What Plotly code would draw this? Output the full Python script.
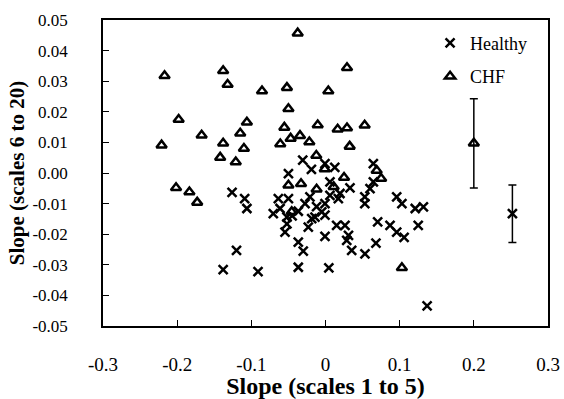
import plotly.graph_objects as go

# Healthy group (x = slope scales 1-5, y = slope scales 6-20)
healthy_x = [-0.126, -0.109, -0.106, -0.120, -0.138, -0.091,
             -0.0307, -0.019, -0.0007, 0.0125, -0.050,
             -0.0636, -0.050, -0.0613, -0.0704, -0.0367, -0.021, -0.0276, -0.012, -0.0007,
             0.006, 0.0173, -0.005, 0.006,
             -0.052, -0.0546, -0.0367, -0.030, -0.0232, -0.0007, 0.015, -0.0142, -0.0007,
             -0.0367, 0.0045,
             0.033, 0.0195, 0.0263, 0.031, 0.0286, 0.0353, 0.0532, 0.068, 0.0703, 0.087,
             0.096, 0.106,
             0.0645, 0.0645, 0.060, 0.053, 0.053, 0.096, 0.103, 0.121, 0.132, 0.125, 0.137,
             -0.0186, -0.045, -0.052]
healthy_y = [-0.0063, -0.0084, -0.0116, -0.0253, -0.0316, -0.0322,
             0.0042, 0.0012, 0.0031, 0.0018, -0.0002,
             -0.0084, -0.0084, -0.0116, -0.0133, -0.0125, -0.0078, -0.0100, -0.0110, -0.0100,
             -0.0073, -0.0084, -0.0127, -0.0029,
             -0.0166, -0.0193, -0.0226, -0.0255, -0.0177, -0.0207, -0.0171, -0.0144, -0.0138,
             -0.0308, -0.0310,
             -0.0049, -0.0067, -0.0171, -0.0204, -0.0220, -0.0253, -0.0264, -0.0229, -0.0160, -0.0171,
             -0.0193, -0.0210,
             0.0031, -0.0029, -0.0051, -0.0078, -0.0100, -0.0078, -0.0100, -0.0116, -0.0111, -0.0171, -0.0434,
             -0.0149, -0.0140, -0.0144]

# CHF group
chf_x = [-0.217, -0.138, -0.132, -0.198, -0.221, -0.167, -0.138, -0.115, -0.106, -0.110, -0.142, -0.121,
         -0.0375, 0.029, -0.0856, -0.052, 0.0038, -0.050, -0.0555, -0.0105, -0.0344, -0.047, -0.061,
         -0.0218, 0.0164, 0.029, 0.0528, 0.0326, -0.0124,
         -0.2015, -0.1835, -0.173,
         -0.050, -0.033, -0.001, -0.012, 0.011, 0.025, 0.069, 0.075, -0.0456, 0.103]
chf_y = [0.0318, 0.0334, 0.0289, 0.0175, 0.0091, 0.0123, 0.0097, 0.0130, 0.0166, 0.0080, 0.0051, 0.0036,
         0.0457, 0.0344, 0.0268, 0.0279, 0.0268, 0.0210, 0.0149, 0.0157, 0.0122, 0.0113, 0.0095,
         0.0101, 0.0143, 0.0147, 0.0156, 0.0087, 0.0057,
         -0.0048, -0.0062, -0.0096,
         -0.0040, -0.0035, 0.0013, -0.0053, -0.0045, -0.0015, 0.0008, -0.0018, -0.0127, -0.0310]

# Group means with error bars
chf_mean_x = [0.2]
chf_mean_y = [0.0097]
chf_err = [0.0146]
healthy_mean_x = [0.252]
healthy_mean_y = [-0.0133]
healthy_err = [0.0094]

x_tickvals = [-0.3, -0.2, -0.1, 0, 0.1, 0.2, 0.3]
x_ticktext = ["-0.3", "-0.2", "-0.1", "0", "0.1", "0.2", "0.3"]
y_tickvals = [0.05, 0.04, 0.03, 0.02, 0.01, 0.0, -0.01, -0.02, -0.03, -0.04, -0.05]
y_ticktext = ["0.05", "0.04", "0.03", "0.02", "0.01", "0.00", "-0.01", "-0.02", "-0.03", "-0.04", "-0.05"]

FONT = "Liberation Serif"

fig = go.Figure()
fig.add_trace(go.Scatter(x=healthy_x, y=healthy_y, mode="markers", name="Healthy",
                         legendgroup="h",
                         marker=dict(symbol="x-thin-open", size=9, color="black",
                                     line=dict(color="black", width=2.5))))
fig.add_trace(go.Scatter(x=chf_x, y=chf_y, mode="markers", name="CHF",
                         legendgroup="c",
                         marker=dict(symbol="triangle-up-open", size=9, color="black",
                                     line=dict(color="black", width=2.5))))
fig.add_trace(go.Scatter(x=chf_mean_x, y=chf_mean_y, mode="markers", showlegend=False,
                         marker=dict(symbol="triangle-up-open", size=9, color="black",
                                     line=dict(color="black", width=2.5)),
                         error_y=dict(type="data", array=chf_err, color="black",
                                      thickness=1.5, width=4)))
fig.add_trace(go.Scatter(x=healthy_mean_x, y=healthy_mean_y, mode="markers", showlegend=False,
                         marker=dict(symbol="x-thin-open", size=9, color="black",
                                     line=dict(color="black", width=2.5)),
                         error_y=dict(type="data", array=healthy_err, color="black",
                                      thickness=1.5, width=4)))

axis_common = dict(showgrid=False, zeroline=False, showline=True, linecolor="black",
                   linewidth=1.5, mirror=True, ticks="inside", ticklen=6, tickwidth=1.2,
                   tickcolor="black", automargin=False)

fig.update_xaxes(range=[-0.3, 0.3], tickvals=x_tickvals, ticktext=x_ticktext,
                 ticklabelstandoff=20,
                 tickfont=dict(family=FONT, size=19, color="black"),
                 title=dict(text="<b>Slope (scales 1 to 5)</b>",
                            font=dict(family=FONT, size=24, color="black"), standoff=8),
                 **axis_common)
fig.update_yaxes(range=[-0.05, 0.05], tickvals=y_tickvals, ticktext=y_ticktext,
                 ticklabelstandoff=30,
                 tickfont=dict(family=FONT, size=17, color="black"),
                 title=dict(text="<b>Slope (scales 6 to 20)</b>",
                            font=dict(family=FONT, size=21, color="black"), standoff=2),
                 **axis_common)

fig.update_layout(width=564, height=399, margin=dict(l=103, r=16, t=20, b=73),
                  paper_bgcolor="white", plot_bgcolor="white",
                  font=dict(family=FONT, color="black"),
                  legend=dict(x=0.735, y=0.985, xanchor="left", yanchor="top",
                              bgcolor="rgba(0,0,0,0)", tracegroupgap=7,
                              font=dict(family=FONT, size=18, color="black")))

fig.write_html("out.html")
